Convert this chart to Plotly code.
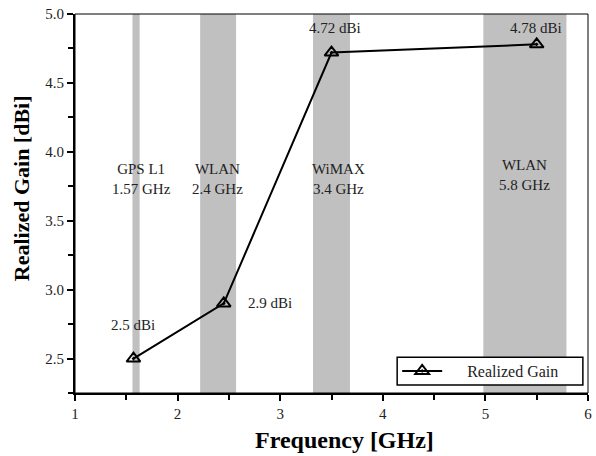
import plotly.graph_objects as go

# Data
freq_ghz = [1.57, 2.45, 3.5, 5.5]
gain_dbi = [2.5, 2.9, 4.72, 4.78]
point_labels = ["2.5 dBi", "2.9 dBi", "4.72 dBi", "4.78 dBi"]
label_x = [1.57, 2.90, 3.53, 5.49]
label_y = [2.74, 2.90, 4.90, 4.90]

band_start = [1.56, 2.22, 3.32, 4.98]
band_end = [1.63, 2.57, 3.68, 5.79]
band_names = ["GPS L1<br>1.57 GHz", "WLAN<br>2.4 GHz", "WiMAX<br>3.4 GHz", "WLAN<br>5.8 GHz"]
band_label_x = [1.65, 2.39, 3.57, 5.38]
band_label_y = [3.80, 3.80, 3.80, 3.83]

x_title = "Frequency [GHz]"
y_title = "Realized Gain [dBi]"

FONT = "Liberation Serif"

fig = go.Figure()
fig.add_trace(go.Scatter(
    x=freq_ghz, y=gain_dbi, mode="lines+markers",
    name="&nbsp;&nbsp;&nbsp;&nbsp;&nbsp;Realized Gain",
    line=dict(color="black", width=2),
    marker=dict(symbol="triangle-up-open-dot", size=12, color="black",
                line=dict(color="black", width=2)),
))

for s, e in zip(band_start, band_end):
    fig.add_shape(type="rect", xref="x", yref="paper", x0=s, x1=e, y0=0, y1=1,
                  fillcolor="#c0c0c0", line=dict(width=0), layer="below")

for bx, by, bn in zip(band_label_x, band_label_y, band_names):
    fig.add_annotation(x=bx, y=by, text=bn, showarrow=False,
                       font=dict(family=FONT, size=15, color="#222"))

for lx, ly, lt in zip(label_x, label_y, point_labels):
    fig.add_annotation(x=lx, y=ly, text=lt, showarrow=False,
                       font=dict(family=FONT, size=15, color="#222"))

# axis titles
fig.add_annotation(xref="paper", yref="paper", x=0.526, y=-0.084, xanchor="center", yanchor="top",
                   text="<b>" + x_title + "</b>", showarrow=False,
                   font=dict(family=FONT, size=24, color="black"))
fig.add_annotation(xref="paper", yref="paper", x=-0.076, y=0.539, xanchor="right", yanchor="middle",
                   text="<b>" + y_title + "</b>", showarrow=False, textangle=-90,
                   font=dict(family=FONT, size=22, color="black"))

# legend box
fig.add_shape(type="rect", xref="paper", yref="paper", x0=0.628, x1=0.990, y0=0.021, y1=0.094,
              fillcolor="white", line=dict(color="black", width=1.5), layer="above")

# frame
fig.add_shape(type="rect", xref="paper", yref="paper", x0=0, x1=1, y0=0, y1=1,
              line=dict(color="black", width=1), layer="above")

fig.update_layout(
    width=596, height=456,
    margin=dict(l=75, r=8, t=14, b=63),
    plot_bgcolor="white", paper_bgcolor="white",
    font=dict(family=FONT, size=15, color="#222"),
    showlegend=True,
    legend=dict(x=0.628, y=0.058, xanchor="left", yanchor="middle",
                bgcolor="rgba(0,0,0,0)", borderwidth=0,
                font=dict(family=FONT, size=16, color="#222"),
                itemwidth=40),
    xaxis=dict(range=[1, 6], dtick=1, tick0=1, showgrid=False, zeroline=False,
               showline=True, linecolor="black", linewidth=2, automargin=False,
               ticks="outside", ticklen=6, tickwidth=2, tickcolor="black",
               minor=dict(dtick=0.5, ticks="outside", ticklen=5, tickwidth=2, tickcolor="black"),
               tickfont=dict(family=FONT, size=15, color="#222")),
    yaxis=dict(range=[2.25, 5.0], dtick=0.5, tick0=2.5, tickformat=".1f",
               showgrid=False, zeroline=False, automargin=False,
               showline=True, linecolor="black", linewidth=2,
               ticks="outside", ticklen=6, tickwidth=2, tickcolor="black",
               minor=dict(dtick=0.25, ticks="outside", ticklen=5, tickwidth=2, tickcolor="black"),
               tickfont=dict(family=FONT, size=15, color="#222")),
)

fig.write_html("out.html", config={"displayModeBar": False},
               post_script="document.body.style.margin='0';document.body.style.overflow='hidden';")
